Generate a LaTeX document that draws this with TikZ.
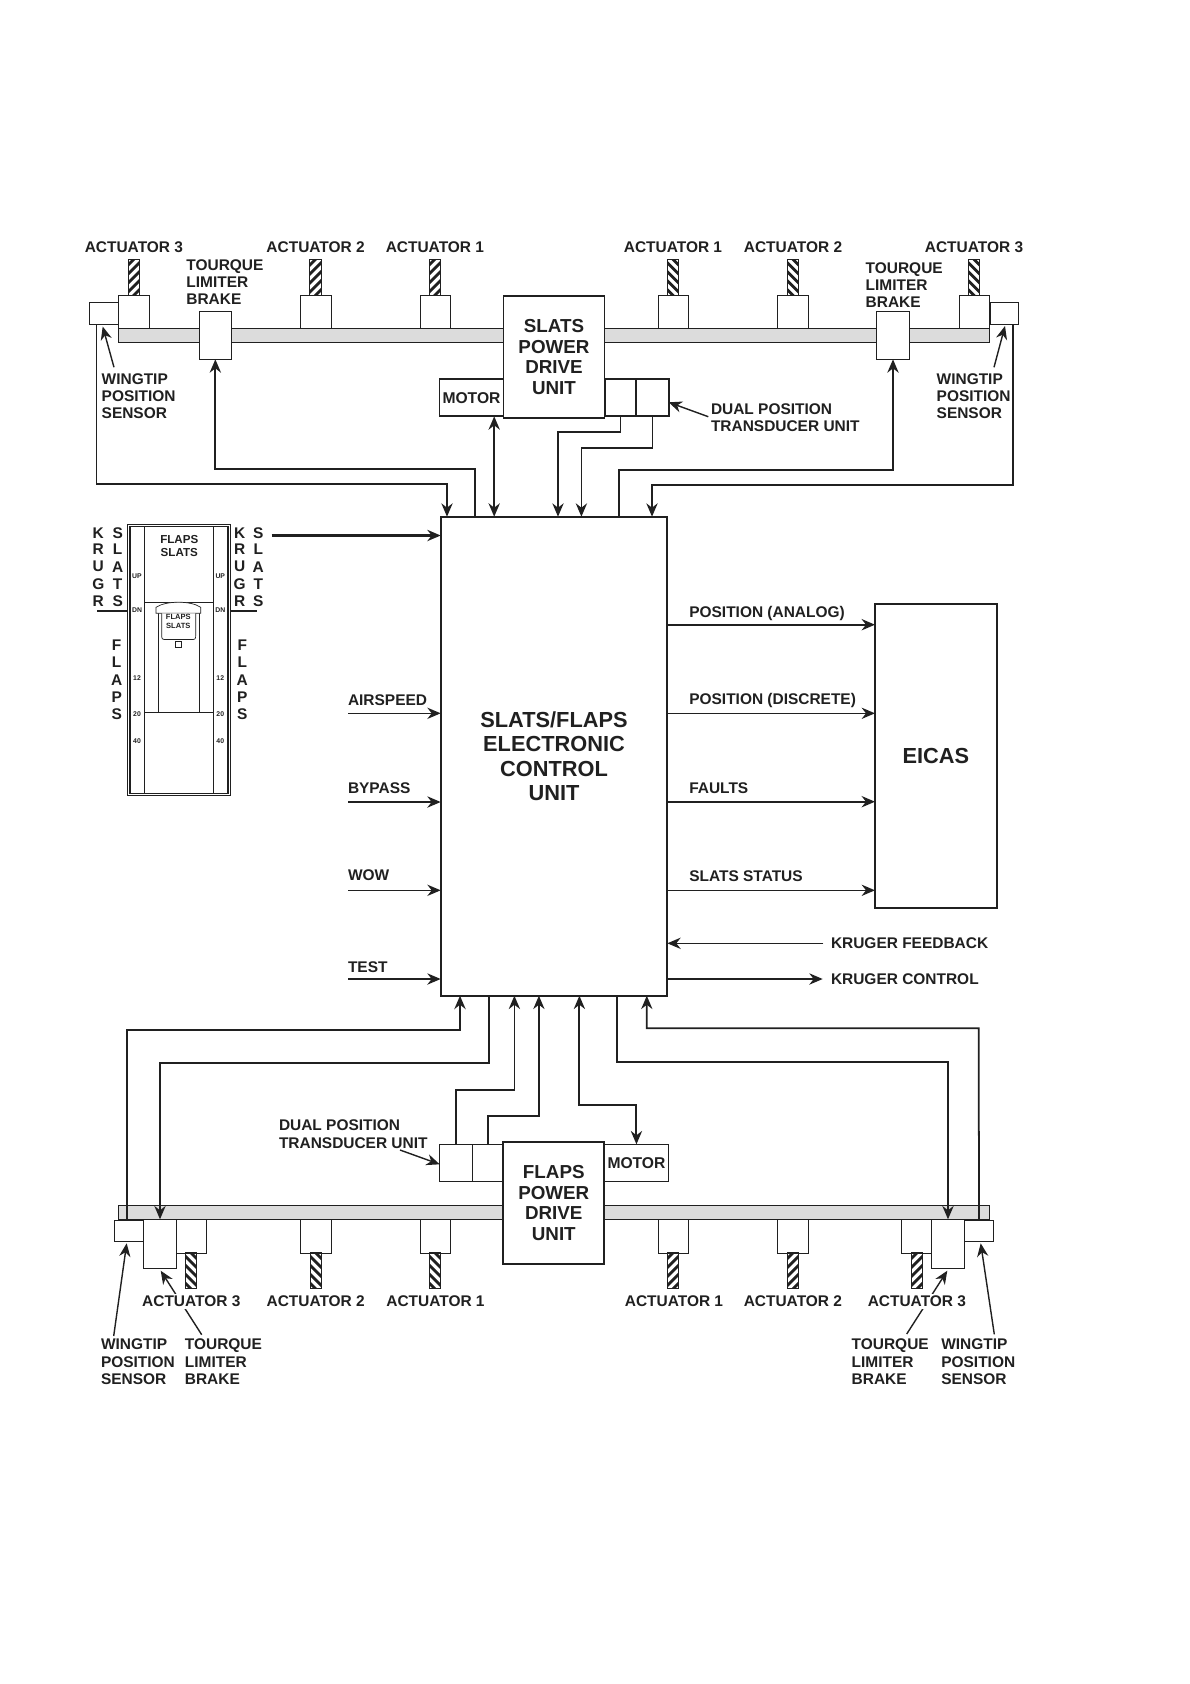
\documentclass[tikz,border=0pt]{standalone}
\usepackage{fontspec}
\setmainfont{Liberation Sans}
\usetikzlibrary{arrows.meta}

\definecolor{inkblack}{RGB}{32,32,32}
\definecolor{shaftgray}{RGB}{220,220,220}

\tikzset{
    wd/.style={minimum width=#1*0.02cm},
    ht/.style={minimum height=#1*0.02cm},
    unitbox/.style={draw=inkblack,fill=white,line width=0.7pt,inner sep=0pt,outer sep=0pt},
    drivebox/.style={unitbox,line width=1pt,align=center,font=\fontsize{10.7}{11.9}\selectfont\bfseries},
    bigbox/.style={unitbox,line width=1pt,align=center,font=\fontsize{12.4}{14}\selectfont\bfseries},
    shaftbar/.style={draw=inkblack,fill=shaftgray,line width=0.7pt,inner sep=0pt,outer sep=0pt},
    screwbar/.style={draw=inkblack,line width=0.6pt,inner sep=0pt,outer sep=0pt,minimum width=11.3*0.02cm,minimum height=36*0.02cm,
        path picture={
            \foreach \s in {-36,-27,...,36}
                \draw[inkblack,line width=1.6pt,shift={(path picture bounding box.center)}]
                    (-8,{\s+8*#1}) -- (8,{\s-8*#1});
        }},
    lbl/.style={inner sep=0pt,outer sep=0pt,align=left,anchor=west,font=\fontsize{8.8}{9.8}\selectfont\bfseries},
    lblmid/.style={inner sep=0pt,outer sep=0pt,font=\fontsize{8.8}{9.8}\selectfont\bfseries},
    lettermark/.style={inner sep=0pt,outer sep=0pt,font=\fontsize{8.8}{10}\selectfont\bfseries},
    tinymark/.style={inner sep=0pt,outer sep=0pt,font=\fontsize{3.9}{4.5}\selectfont\bfseries},
    wirethin/.style={line width=0.8pt,-{Stealth[length=7.6pt,width=6.4pt]}},
    wiremid/.style={line width=1pt,-{Stealth[length=7.6pt,width=6.4pt]}},
    wirethick/.style={line width=1.2pt,-{Stealth[length=7.6pt,width=6.4pt]}},
    wireboth/.style={line width=1.15pt,{Stealth[length=7.6pt,width=6.4pt]}-{Stealth[length=7.6pt,width=6.4pt]}},
    leader/.style={line width=0.8pt,-{Stealth[length=7.6pt,width=6.4pt]}},
}

\begin{document}
\begin{tikzpicture}[x=0.02cm,y=-0.02cm,inkblack]
    \useasboundingbox (0,0) rectangle (1190,1684);

    \node[shaftbar,wd=871.1,ht=14] (shaftT) at (553.75,335.3) {};
    \node[shaftbar,wd=871.4,ht=13.6] (shaftB) at (554,1212.5) {};

    \foreach \tag/\x/\w/\sx/\num in {TLc/133.7/31/133.9/3,TLb/315.9/31/315.6/2,TLa/435.4/29.6/434.9/1,TRa/673.5/30.4/673/1,TRb/793/31.4/793/2,TRc/974.5/29.6/974/3} {
        \node[unitbox,wd=\w,ht=33] (act\tag) at (\x,311.8) {};
        \node[lblmid] (actlbl\tag) at (\sx,247.3) {ACTUATOR \num};
    }
    \foreach \tag/\sx in {TLc/133.9,TLb/315.6,TLa/434.9}
        \node[screwbar=1] (screw\tag) at (\sx,277.3) {};
    \foreach \tag/\sx in {TRa/673,TRb/793,TRc/974}
        \node[screwbar=-1] (screw\tag) at (\sx,277.3) {};

    \foreach \tag/\x/\w/\sx in {BLc/191.3/29.9/191,BLb/315.9/31/315.7,BLa/435.5/29.9/435,BRa/673.5/30.4/673,BRb/793/31.4/793,BRc/916.5/30.4/917}
        \node[unitbox,wd=\w,ht=34] (act\tag) at (\x,1236.3) {};
    \foreach \tag/\sx in {BLc/191,BLb/315.7,BLa/435}
        \node[screwbar=-1] (screw\tag) at (\sx,1270.8) {};
    \foreach \tag/\sx in {BRa/673,BRb/793,BRc/917}
        \node[screwbar=1] (screw\tag) at (\sx,1270.8) {};

    \node[unitbox,wd=28.9,ht=22] (wingTL) at (103.75,313.3) {};
    \node[unitbox,wd=28.4,ht=22] (wingTR) at (1004.5,313.3) {};
    \node[unitbox,wd=31.7,ht=48] (brakeTL) at (215.35,335.3) {};
    \node[unitbox,wd=33.4,ht=48] (brakeTR) at (893,335.3) {};
    \node[unitbox,wd=29.1,ht=21] (wingBL) at (128.95,1230.8) {};
    \node[unitbox,wd=28.6,ht=21] (wingBR) at (979,1230.8) {};
    \node[unitbox,wd=32.9,ht=49] (brakeBL) at (160,1243.8) {};
    \node[unitbox,wd=32.6,ht=49] (brakeBR) at (948,1243.8) {};

    \node[unitbox,line width=1pt,wd=64,ht=37.3,font=\fontsize{8.9}{10}\selectfont\bfseries] (motorT) at (471.5,397.65) {MOTOR};
    \node[unitbox,line width=1pt,wd=31.6,ht=37.3] (dualTa) at (620.5,397.65) {};
    \node[unitbox,line width=1pt,wd=32.4,ht=37.3] (dualTb) at (652.5,397.65) {};
    \node[drivebox,wd=100.9,ht=121.4] (driveT) at (554,357) {SLATS\\POWER\\DRIVE\\UNIT};

    \node[unitbox,wd=64.3,ht=37,font=\fontsize{8.9}{10}\selectfont\bfseries] (motorB) at (636.45,1162.8) {MOTOR};
    \node[unitbox,wd=32.6,ht=37] (dualBa) at (456,1162.8) {};
    \node[unitbox,wd=31,ht=37] (dualBb) at (487.8,1162.8) {};
    \node[drivebox,wd=101,ht=121.4] (driveB) at (553.8,1203) {FLAPS\\POWER\\DRIVE\\UNIT};

    \node[bigbox,wd=226.6,ht=479] (ecu) at (554,756.2) {SLATS/FLAPS\\ELECTRONIC\\CONTROL\\UNIT};
    \node[bigbox,wd=121.7,ht=304.6] (eicas) at (935.85,756) {EICAS};

    \foreach \tag/\x in {a/447,b/475.3,c/558,d/581.4,e/619.3,f/652,m/494.2}
        \coordinate (ecuN\tag) at (\x,516.7);
    \foreach \tag/\x in {a/460,b/488.7,c/514.4,d/538.9,e/617,f/646.8,m/579.4}
        \coordinate (ecuS\tag) at (\x,995.7);

    \draw[wiremid] (wingTL.south -| 96.5,0) -- (96.5,484.3) -| (ecuNa);
    \draw[wirethick] (ecuNb) -- (475.3,469) -| (brakeTL.south);
    \draw[wireboth] (motorT.south -| ecuNm) -- (ecuNm);
    \draw[wiremid] (dualTa.south) |- (558,431.7) -- (ecuNc);
    \draw[wiremid] (dualTb.south) |- (581.4,448) -- (ecuNd);
    \draw[wirethick] (ecuNe) -- (619.3,469.7) -| (brakeTR.south);
    \draw[wiremid] (wingTR.south -| 1013.3,0) -- (1013.3,484.7) -| (ecuNf);

    \draw[wirethick] (wingBL.north -| 126.7,0) -- (126.7,1029.7) -| (ecuSa);
    \draw[wirethick] (ecuSb) -- (488.7,1063.3) -| (brakeBL.north);
    \draw[wiremid] (dualBa.north) |- (514.4,1089.7) -- (ecuSc);
    \draw[wiremid] (dualBb.north) |- (538.9,1116.3) -- (ecuSd);
    \draw[wireboth] (ecuSm) -- (579.4,1104.7) -| (motorB.north);
    \draw[wirethick] (ecuSe) -- (617,1062.3) -| (brakeBR.north);
    \draw[wiremid] (wingBR.north) -- (978.7,1028.3) -| (ecuSf);

    \coordinate (tailTLw) at (114,367.3);
    \coordinate (tipTLw) at (102.7,326.5);
    \coordinate (tailTRw) at (994,367.3);
    \coordinate (tipTRw) at (1005,326);
    \coordinate (tailTd) at (708.3,416.7);
    \coordinate (tailBd) at (400,1150);
    \coordinate (tailBLw) at (113.7,1336);
    \coordinate (tailBRw) at (994.3,1334.3);
    \coordinate (tailBLb) at (201.7,1334.7);
    \coordinate (tailBRb) at (906.7,1334);

    \draw[leader] (tailTLw) -- (tipTLw);
    \draw[leader] (tailTRw) -- (tipTRw);
    \draw[leader] (tailTd) -- (dualTb.east |- 0,402.3);
    \draw[leader] (tailBd) -- (dualBa.west |- 0,1164.3);
    \draw[leader] (tailBLw) -- (126.7,1243.3);
    \draw[leader] (tailBRw) -- (980.7,1243.3);
    \draw[leader] (tailBLb) -- (160.7,1270.7);
    \draw[leader] (tailBRb) -- (947.3,1270.7);

    \foreach \tag/\sx/\num in {BLc/191.3/3,BLb/315.7/2,BLa/435.5/1,BRa/674/1,BRb/792.9/2,BRc/916.9/3}
        \node[lblmid,fill=white,inner sep=1pt] (actlbl\tag) at (\sx,1301.3) {ACTUATOR \num};

    \node[lbl] (brakelblTL) at (186.4,282.3) {TOURQUE\\LIMITER\\BRAKE};
    \node[lbl] (brakelblTR) at (865.7,285) {TOURQUE\\LIMITER\\BRAKE};
    \node[lbl] (winglblTL) at (101.7,396) {WINGTIP\\POSITION\\SENSOR};
    \node[lbl] (winglblTR) at (936.7,396) {WINGTIP\\POSITION\\SENSOR};
    \node[lbl] (duallblT) at (711,417.8) {DUAL POSITION\\TRANSDUCER UNIT};
    \node[lbl] (duallblB) at (279,1134.2) {DUAL POSITION\\TRANSDUCER UNIT};
    \node[lbl] (winglblBL) at (101,1361.7) {WINGTIP\\POSITION\\SENSOR};
    \node[lbl] (brakelblBL) at (184.9,1361.7) {TOURQUE\\LIMITER\\BRAKE};
    \node[lbl] (brakelblBR) at (851.7,1361.7) {TOURQUE\\LIMITER\\BRAKE};
    \node[lbl] (winglblBR) at (941.3,1361.7) {WINGTIP\\POSITION\\SENSOR};

    \foreach \tag/\txt/\y/\ly in {air/AIRSPEED/713.3/700,byp/BYPASS/802/788.3,wow/WOW/890.3/875.5,tst/TEST/979/967} {
        \node[lbl] (in\tag) at (348,\ly) {\txt};
        \coordinate (from\tag) at (348,\y);
    }
    \draw[wirethin] (fromair) -- (ecu.west |- fromair);
    \draw[wirethick] (frombyp) -- (ecu.west |- frombyp);
    \draw[wirethin] (fromwow) -- (ecu.west |- fromwow);
    \draw[wirethick] (fromtst) -- (ecu.west |- fromtst);

    \node[lbl] (outana) at (689.3,613.5) {POSITION (ANALOG)};
    \node[lbl] (outdis) at (689.3,700.5) {POSITION (DISCRETE)};
    \node[lbl] (outflt) at (689.3,788.3) {FAULTS};
    \node[lbl] (outsts) at (689.3,875.7) {SLATS STATUS};
    \draw[wirethick] (ecu.east |- 0,624.7) -- (eicas.west |- 0,624.7);
    \draw[wirethin] (ecu.east |- 0,713.3) -- (eicas.west |- 0,713.3);
    \draw[wirethick] (ecu.east |- 0,801.7) -- (eicas.west |- 0,801.7);
    \draw[wirethin] (ecu.east |- 0,890.3) -- (eicas.west |- 0,890.3);

    \node[lbl] (krfeed) at (831,943.3) {KRUGER FEEDBACK};
    \node[lbl] (krctrl) at (831,979) {KRUGER CONTROL};
    \draw[wirethin] (823.3,943.3) -- (ecu.east |- krfeed);
    \draw[wirethick] (ecu.east |- krctrl) -- (822.7,979);

    \node[draw=inkblack,line width=0.8pt,inner sep=0pt,outer sep=0pt,wd=103.4,ht=271.4] (panel) at (179,660) {};
    \node[draw=inkblack,line width=0.7pt,inner sep=0pt,outer sep=0pt,wd=98,ht=266.6] (panelin) at (179,660) {};
    \draw[line width=0.7pt] (144.3,526.7) -- (144.3,793.3);
    \draw[line width=0.7pt] (213.3,526.7) -- (213.3,793.3);
    \draw[line width=0.7pt] (144.3,602.3) -- (213.3,602.3);
    \draw[line width=0.7pt] (144.3,712.3) -- (213.3,712.3);
    \draw[line width=0.7pt] (158.7,612) -- (158.7,712.3);
    \draw[line width=0.7pt] (199.3,612) -- (199.3,712.3);
    \draw[line width=0.4pt,fill=white] (156,613.3) -- (156,607.3) .. controls (166,600.5) and (191,600.5) .. (200.7,607.3) -- (200.7,613.3) -- cycle;
    \draw[line width=0.4pt,fill=white] (161.7,613.3) -- (161.7,634) .. controls (161.7,639.5) .. (167,639.5) -- (190.5,639.5) .. controls (195.7,639.5) .. (195.7,634) -- (195.7,613.3);
    \node[draw=inkblack,line width=0.5pt,inner sep=0pt,wd=6,ht=5.5] (knob) at (178.3,644.6) {};

    \node[inner sep=0pt,align=center,font=\fontsize{6.6}{7.4}\selectfont\bfseries] (gateword) at (179.3,545.8) {FLAPS\\SLATS};
    \node[inner sep=0pt,align=center,font=\fontsize{4.3}{5.1}\selectfont\bfseries] (knobword) at (178.3,621.2) {FLAPS\\SLATS};

    \foreach \tag/\x in {L/137,R/220.3}
        \foreach \mk/\y [count=\i] in {UP/576,DN/609.7,12/677.7,20/714,40/741}
            \node[tinymark] (mark\tag\i) at (\x,\y) {\mk};

    \foreach \tag/\x in {krugL/98.3,krugR/239.7}
        \foreach \ch/\y [count=\i] in {K/532.7,R/549.3,U/566.7,G/584,R/600.7}
            \node[lettermark] (\tag\i) at (\x,\y) {\ch};
    \foreach \tag/\x in {slatL/117.7,slatR/258.3}
        \foreach \ch/\y [count=\i] in {S/532.7,L/549.3,A/566.7,T/584,S/600.7}
            \node[lettermark] (\tag\i) at (\x,\y) {\ch};
    \foreach \tag/\x in {flapL/116.7,flapR/242.3}
        \foreach \ch/\y [count=\i] in {F/645,L/662.3,A/680,P/696.7,S/713.7}
            \node[lettermark] (\tag\i) at (\x,\y) {\ch};

    \coordinate (detentL) at (97.3,611);
    \coordinate (detentR) at (257.3,611);
    \coordinate (panelout) at (271.7,535.5);
    \draw[line width=1.15pt] (detentL) -- (panel.west |- detentL);
    \draw[line width=1.15pt] (panel.east |- detentR) -- (detentR);
    \draw[wirethick] (panelout) -- (ecu.west |- panelout);
\end{tikzpicture}
\end{document}
